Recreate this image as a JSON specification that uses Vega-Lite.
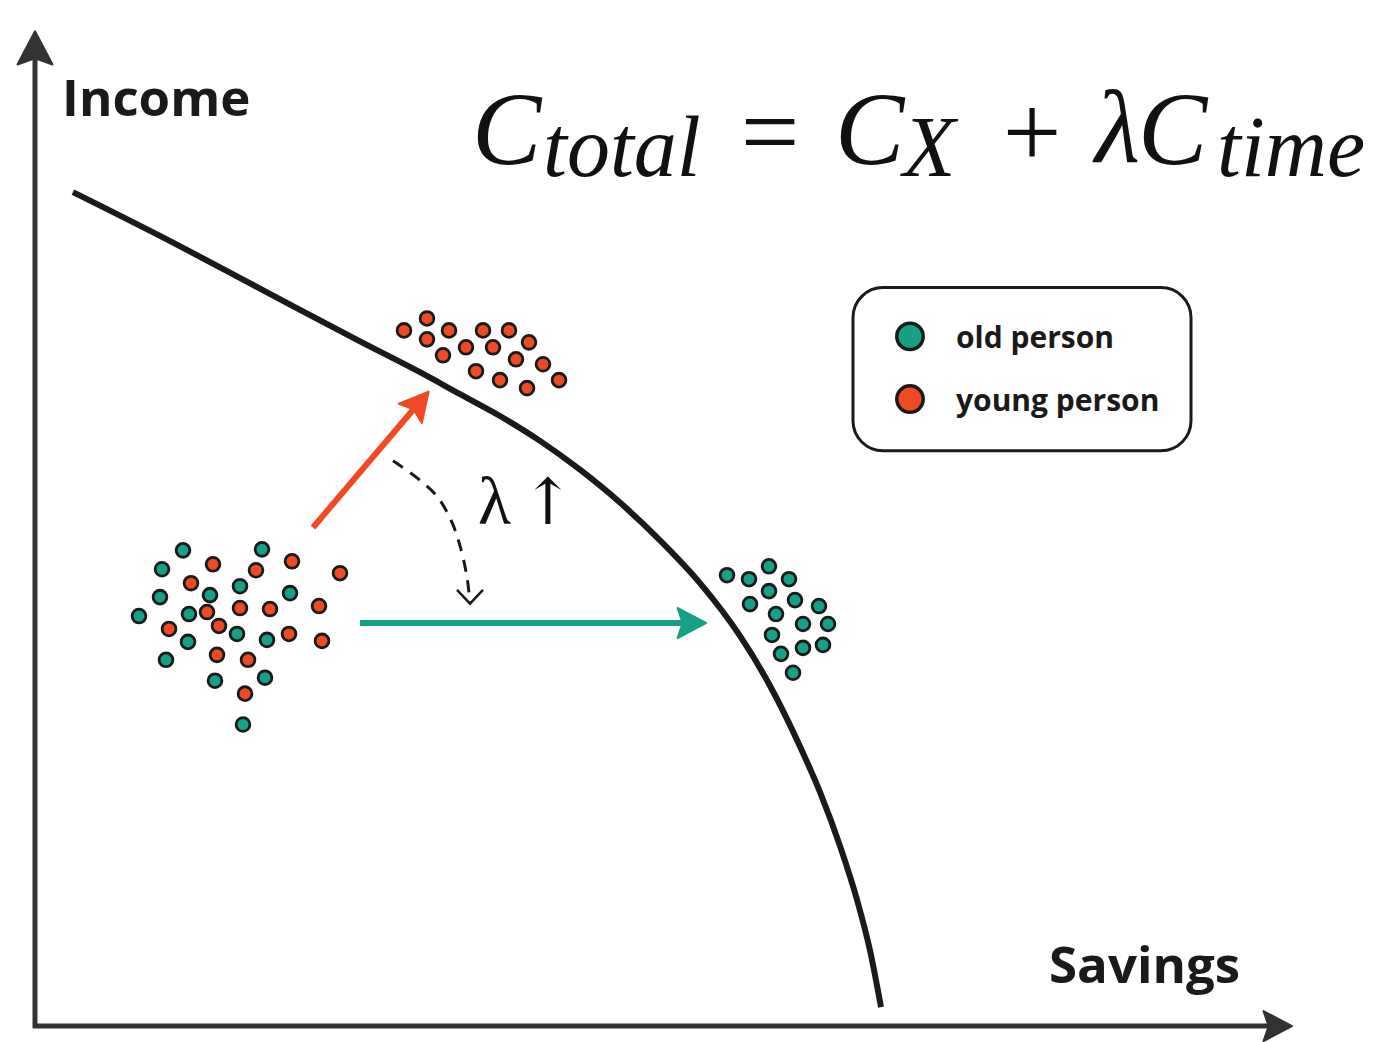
{
  "$schema": "https://vega.github.io/schema/vega-lite/v6.json",
  "width": 1381,
  "height": 1042,
  "autosize": {"type": "fit", "contains": "padding"},
  "padding": 0,
  "background": "white",
  "config": {"view": {"stroke": null}},
  "encoding": {
    "x": {"field": "x", "type": "quantitative", "scale": {"domain": [0, 1381], "nice": false, "zero": false}, "axis": null},
    "y": {"field": "y", "type": "quantitative", "scale": {"domain": [0, 1042], "nice": false, "zero": false, "reverse": true}, "axis": null}
  },
  "layer": [
    {
      "data": {"values": [
        {"name": "Income axis", "x": 35, "y": 1033, "x2": 35, "y2": 50},
        {"name": "Savings axis", "x": 33, "y": 1031, "x2": 1272, "y2": 1031}
      ]},
      "mark": {"type": "rule", "strokeWidth": 5, "color": "#333333", "strokeCap": "butt"},
      "encoding": {"x2": {"field": "x2"}, "y2": {"field": "y2"}}
    },
    {
      "data": {"values": [{"name": "Income arrow", "x": 35, "y": 49}]},
      "mark": {"type": "point", "shape": "M0,-1L1,0.9L0,0.55L-1,0.9Z", "size": 1225, "filled": true, "fill": "#333333", "stroke": "#333333", "strokeWidth": 2, "strokeJoin": "round", "opacity": 1}
    },
    {
      "data": {"values": [{"name": "Savings arrow", "x": 1277, "y": 1031}]},
      "mark": {"type": "point", "shape": "M1,0L-0.9,-1L-0.55,0L-0.9,1Z", "size": 900, "filled": true, "fill": "#333333", "stroke": "#333333", "strokeWidth": 2, "strokeJoin": "round", "opacity": 1}
    },
    {
      "data": {"values": [
        {"x": 73, "y": 193}, {"x": 160, "y": 237}, {"x": 260, "y": 290}, {"x": 360, "y": 343},
        {"x": 420, "y": 374}, {"x": 460, "y": 396}, {"x": 500, "y": 418}, {"x": 540, "y": 443},
        {"x": 580, "y": 472}, {"x": 620, "y": 505}, {"x": 660, "y": 543}, {"x": 700, "y": 586},
        {"x": 740, "y": 639}, {"x": 770, "y": 689}, {"x": 800, "y": 750}, {"x": 820, "y": 796},
        {"x": 840, "y": 850}, {"x": 857, "y": 904}, {"x": 870, "y": 955}, {"x": 881, "y": 1012}
      ]},
      "mark": {"type": "line", "strokeWidth": 6, "color": "#1a1a1a", "interpolate": "monotone", "strokeCap": "butt"}
    },
    {
      "data": {"values": [{"name": "young move", "x": 313, "y": 530, "x2": 418, "y2": 406}]},
      "mark": {"type": "rule", "strokeWidth": 6, "color": "#EF4A23", "strokeCap": "butt"},
      "encoding": {"x2": {"field": "x2"}, "y2": {"field": "y2"}}
    },
    {
      "data": {"values": [{"name": "young arrowhead", "x": 419, "y": 405}]},
      "mark": {"type": "point", "shape": "M1,0L-0.9,-1L-0.55,0L-0.9,1Z", "size": 900, "angle": 310, "filled": true, "fill": "#EF4A23", "stroke": "#EF4A23", "strokeWidth": 2, "strokeJoin": "round", "opacity": 1}
    },
    {
      "data": {"values": [{"name": "old move", "x": 360, "y": 626, "x2": 688, "y2": 626}]},
      "mark": {"type": "rule", "strokeWidth": 6, "color": "#16A085", "strokeCap": "butt"},
      "encoding": {"x2": {"field": "x2"}, "y2": {"field": "y2"}}
    },
    {
      "data": {"values": [{"name": "old arrowhead", "x": 691, "y": 626}]},
      "mark": {"type": "point", "shape": "M1,0L-0.9,-1L-0.55,0L-0.9,1Z", "size": 900, "filled": true, "fill": "#16A085", "stroke": "#16A085", "strokeWidth": 2, "strokeJoin": "round", "opacity": 1}
    },
    {
      "data": {"values": [
        {"i": 0, "x": 393, "y": 463}, {"i": 1, "x": 418, "y": 481}, {"i": 2, "x": 438, "y": 500},
        {"i": 3, "x": 452, "y": 525}, {"i": 4, "x": 461, "y": 552}, {"i": 5, "x": 467, "y": 580},
        {"i": 6, "x": 470, "y": 606}
      ]},
      "mark": {"type": "line", "strokeWidth": 3, "color": "#1a1a1a", "strokeDash": [12, 9], "interpolate": "cardinal"},
      "encoding": {"order": {"field": "i", "type": "quantitative"}}
    },
    {
      "data": {"values": [{"name": "dashed arrowhead", "x": 470, "y": 600}]},
      "mark": {"type": "point", "shape": "M-1,-0.55L0,0.5L1,-0.55", "size": 676, "filled": false, "stroke": "#1a1a1a", "strokeWidth": 2.5, "opacity": 1}
    },
    {
      "data": {"values": [{"text": "λ", "x": 478, "y": 527}]},
      "mark": {"type": "text", "font": "Liberation Serif", "fontSize": 68, "align": "left", "baseline": "alphabetic", "color": "#111111"},
      "encoding": {"text": {"field": "text"}}
    },
    {
      "data": {"values": [{"text": "↑", "x": 548, "y": 527}]},
      "mark": {"type": "text", "font": "DejaVu Serif", "fontSize": 64, "fontWeight": 200, "align": "center", "baseline": "alphabetic", "color": "#111111"},
      "encoding": {"text": {"field": "text"}}
    },
    {
      "data": {"values": [
        {"x": 213, "y": 567, "g": "young"}, {"x": 256, "y": 573, "g": "young"}, {"x": 292, "y": 564, "g": "young"},
        {"x": 340, "y": 576, "g": "young"}, {"x": 191, "y": 586, "g": "young"}, {"x": 207, "y": 615, "g": "young"},
        {"x": 240, "y": 611, "g": "young"}, {"x": 270, "y": 612, "g": "young"}, {"x": 319, "y": 609, "g": "young"},
        {"x": 169, "y": 632, "g": "young"}, {"x": 219, "y": 629, "g": "young"}, {"x": 289, "y": 637, "g": "young"},
        {"x": 322, "y": 644, "g": "young"}, {"x": 217, "y": 658, "g": "young"}, {"x": 248, "y": 663, "g": "young"},
        {"x": 245, "y": 697, "g": "young"},
        {"x": 183, "y": 553, "g": "old"}, {"x": 262, "y": 552, "g": "old"}, {"x": 162, "y": 572, "g": "old"},
        {"x": 240, "y": 589, "g": "old"}, {"x": 160, "y": 600, "g": "old"}, {"x": 210, "y": 598, "g": "old"},
        {"x": 290, "y": 596, "g": "old"}, {"x": 139, "y": 619, "g": "old"}, {"x": 189, "y": 617, "g": "old"},
        {"x": 237, "y": 637, "g": "old"}, {"x": 267, "y": 643, "g": "old"}, {"x": 188, "y": 645, "g": "old"},
        {"x": 166, "y": 663, "g": "old"}, {"x": 215, "y": 684, "g": "old"}, {"x": 265, "y": 681, "g": "old"},
        {"x": 243, "y": 728, "g": "old"},
        {"x": 427, "y": 320, "g": "young"}, {"x": 404, "y": 332, "g": "young"}, {"x": 427, "y": 341, "g": "young"},
        {"x": 449, "y": 332, "g": "young"}, {"x": 483, "y": 332, "g": "young"}, {"x": 509, "y": 332, "g": "young"},
        {"x": 466, "y": 349, "g": "young"}, {"x": 493, "y": 349, "g": "young"}, {"x": 529, "y": 344, "g": "young"},
        {"x": 443, "y": 357, "g": "young"}, {"x": 516, "y": 361, "g": "young"}, {"x": 543, "y": 366, "g": "young"},
        {"x": 476, "y": 373, "g": "young"}, {"x": 500, "y": 382, "g": "young"}, {"x": 527, "y": 390, "g": "young"},
        {"x": 559, "y": 382, "g": "young"},
        {"x": 769, "y": 569, "g": "old"}, {"x": 727, "y": 578, "g": "old"}, {"x": 749, "y": 582, "g": "old"},
        {"x": 789, "y": 582, "g": "old"}, {"x": 769, "y": 594, "g": "old"}, {"x": 750, "y": 607, "g": "old"},
        {"x": 795, "y": 603, "g": "old"}, {"x": 819, "y": 609, "g": "old"}, {"x": 776, "y": 617, "g": "old"},
        {"x": 803, "y": 627, "g": "old"}, {"x": 828, "y": 627, "g": "old"}, {"x": 772, "y": 638, "g": "old"},
        {"x": 823, "y": 648, "g": "old"}, {"x": 803, "y": 651, "g": "old"}, {"x": 781, "y": 657, "g": "old"},
        {"x": 793, "y": 676, "g": "old"}
      ]},
      "mark": {"type": "point", "filled": true, "size": 190, "stroke": "#1a1a1a", "strokeWidth": 2.8, "opacity": 1},
      "encoding": {
        "fill": {"field": "g", "type": "nominal", "scale": {"domain": ["old", "young"], "range": ["#16A085", "#EF4A23"]}, "legend": null}
      }
    },
    {
      "data": {"values": [{"x": 853, "y": 289, "x2": 1191, "y2": 453}]},
      "mark": {"type": "rect", "cornerRadius": 30, "fill": "white", "stroke": "#1a1a1a", "strokeWidth": 3},
      "encoding": {"x2": {"field": "x2"}, "y2": {"field": "y2"}}
    },
    {
      "data": {"values": [
        {"x": 910, "y": 338, "g": "old", "label": "old person"},
        {"x": 910, "y": 401, "g": "young", "label": "young person"}
      ]},
      "mark": {"type": "point", "filled": true, "size": 700, "stroke": "#1a1a1a", "strokeWidth": 3.5, "opacity": 1},
      "encoding": {
        "fill": {"field": "g", "type": "nominal", "scale": {"domain": ["old", "young"], "range": ["#16A085", "#EF4A23"]}, "legend": null}
      }
    },
    {
      "data": {"values": [
        {"x": 956, "y": 350, "label": "old person"},
        {"x": 956, "y": 413, "label": "young person"}
      ]},
      "mark": {"type": "text", "font": "Open Sans", "fontWeight": "bold", "fontSize": 30, "align": "left", "baseline": "alphabetic", "color": "#1a1a1a"},
      "encoding": {"text": {"field": "label"}}
    },
    {
      "data": {"values": [
        {"x": 62, "y": 117, "label": "Income"},
        {"x": 1049, "y": 988, "label": "Savings"}
      ]},
      "mark": {"type": "text", "font": "Open Sans", "fontWeight": "bold", "fontSize": 51, "align": "left", "baseline": "alphabetic", "color": "#1a1a1a"},
      "encoding": {"text": {"field": "label"}}
    },
    {
      "data": {"values": [
        {"x": 472, "y": 165, "t": "C"},
        {"x": 835, "y": 165, "t": "C"},
        {"x": 1095, "y": 163, "t": "λ"},
        {"x": 1138, "y": 165, "t": "C"}
      ]},
      "mark": {"type": "text", "font": "Liberation Serif", "fontStyle": "italic", "fontSize": 104, "align": "left", "baseline": "alphabetic", "color": "#111111"},
      "encoding": {"text": {"field": "t"}}
    },
    {
      "data": {"values": [
        {"x": 543, "y": 177, "t": "total"},
        {"x": 903, "y": 177, "t": "X"},
        {"x": 1217, "y": 177, "t": "time"}
      ]},
      "mark": {"type": "text", "font": "Liberation Serif", "fontStyle": "italic", "fontSize": 86, "align": "left", "baseline": "alphabetic", "color": "#111111"},
      "encoding": {"text": {"field": "t"}}
    },
    {
      "data": {"values": [
        {"x": 770, "y": 168, "t": "="},
        {"x": 1032, "y": 168, "t": "+"}
      ]},
      "mark": {"type": "text", "font": "Liberation Serif", "fontSize": 104, "align": "center", "baseline": "alphabetic", "color": "#111111"},
      "encoding": {"text": {"field": "t"}}
    }
  ]
}
